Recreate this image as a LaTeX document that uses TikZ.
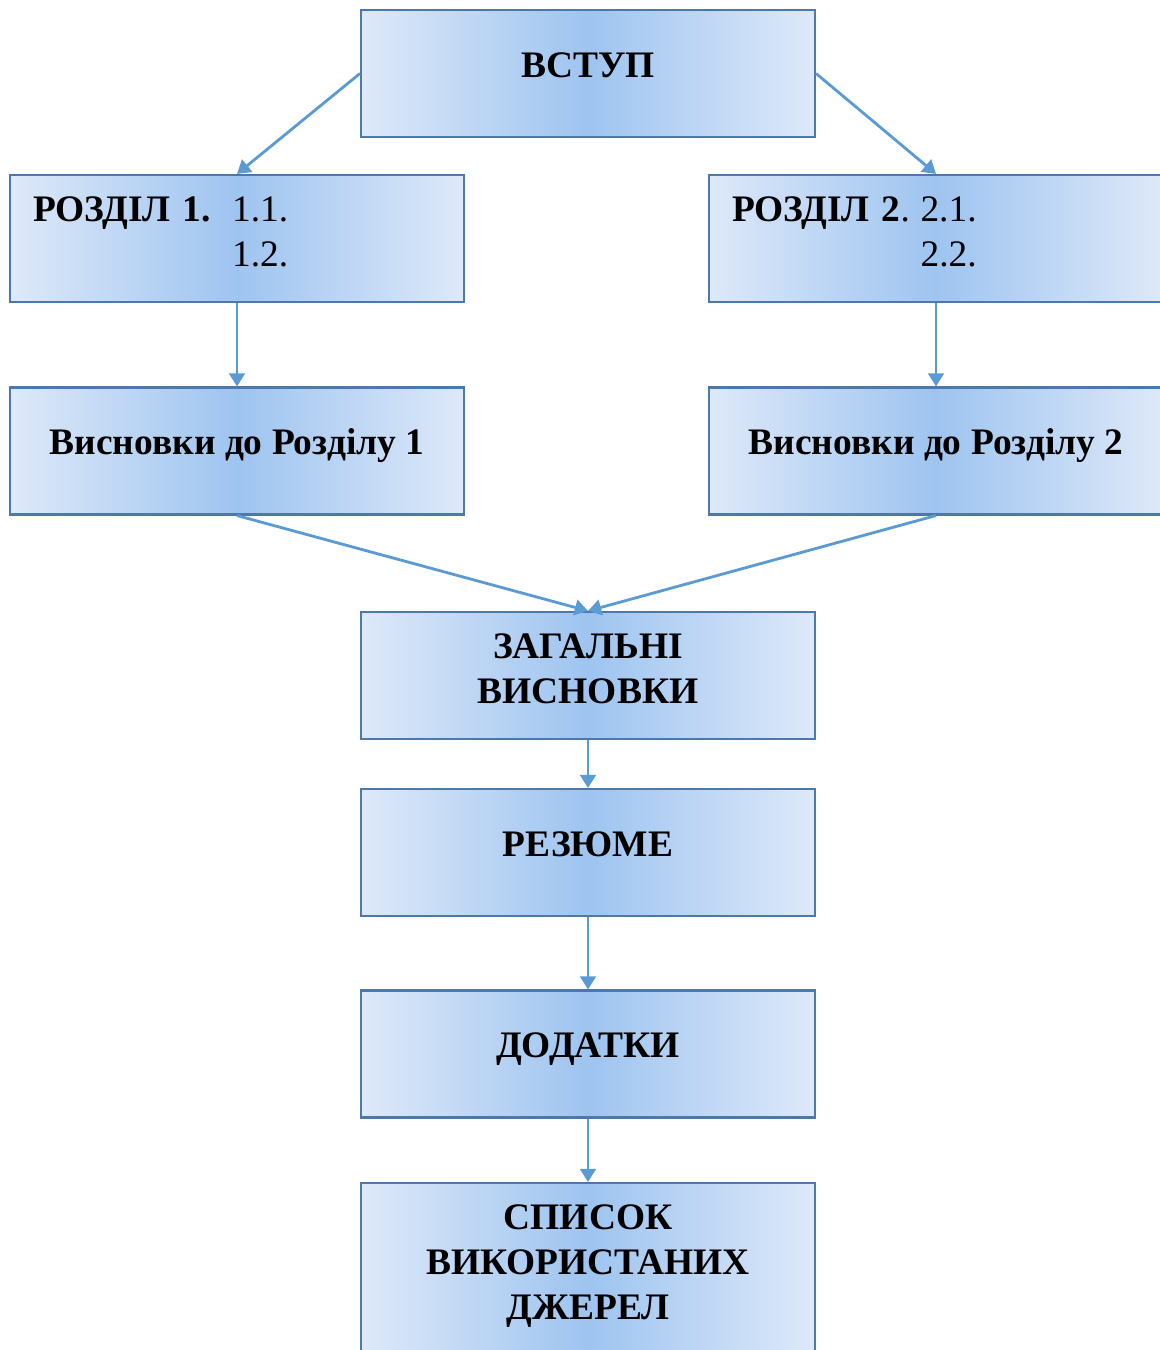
\documentclass[tikz,border=0pt]{standalone}
\usepackage{fontspec}
\setmainfont{Liberation Serif}
\usetikzlibrary{arrows.meta}

\definecolor{boxline}{RGB}{76,120,170}
\definecolor{arrowblue}{RGB}{91,155,213}
\definecolor{glowin}{RGB}{158,196,240}
\definecolor{glowout}{RGB}{222,233,249}

% text block inside a box, lifted a little by extra depth
\newcommand{\boxtext}[2][6pt]{\begin{tabular}{@{}c@{}}#2\\[#1]\end{tabular}}

\tikzset{
  part/.style={draw=boxline, line width=1.2pt, left color=glowout, right color=glowout,
    middle color=glowin, minimum width=9.08cm, minimum height=2.54cm, inner sep=0pt,
    font=\fontsize{21.3}{25.5}\selectfont\bfseries},
  chapter/.style={part, text width=8.16cm, align=left, inner xsep=0.46cm},
  link/.style={draw=arrowblue, line width=1.6pt, -{Triangle[length=7.5pt,width=9pt]}}
}

\begin{document}
\begin{tikzpicture}
\useasboundingbox (0,0) rectangle (23.18,-27);

\node[part] (intro) at (11.76,-1.47) {\boxtext{ВСТУП}};
\node[chapter] (r1) at (4.74,-4.77)
  {\begin{tabular}{@{}l@{\hspace{12pt}}l@{}}РОЗДІЛ 1. & \mdseries 1.1.\\ & \mdseries 1.2.\\[4pt]\end{tabular}};
\node[chapter] (r2) at (18.72,-4.77)
  {\begin{tabular}{@{}l@{\hspace{6pt}}l@{}}РОЗДІЛ 2\mdseries. & \mdseries 2.1.\\ & \mdseries 2.2.\\[4pt]\end{tabular}};
\node[part] (v1) at (4.74,-9.02) {\boxtext{Висновки до Розділу 1}};
\node[part] (v2) at (18.72,-9.02) {\boxtext{Висновки до Розділу 2}};
\node[part] (zag) at (11.76,-13.51) {\boxtext[4pt]{ЗАГАЛЬНІ\\ВИСНОВКИ}};
\node[part] (rez) at (11.76,-17.05) {\boxtext{РЕЗЮМЕ}};
\node[part] (dod) at (11.76,-21.08) {\boxtext{ДОДАТКИ}};
\node[part, minimum height=3.44cm] (spys) at (11.76,-25.38)
  {\boxtext[4pt]{СПИСОК\\ВИКОРИСТАНИХ\\ДЖЕРЕЛ}};

\draw[link] (intro.west) -- (r1.north);
\draw[link] (intro.east) -- (r2.north);
\draw[link] (r1.south) -- (v1.north);
\draw[link] (r2.south) -- (v2.north);
\draw[link] (v1.south) -- (zag.north);
\draw[link] (v2.south) -- (zag.north);
\draw[link] (zag.south) -- (rez.north);
\draw[link] (rez.south) -- (dod.north);
\draw[link] (dod.south) -- (spys.north);

\end{tikzpicture}
\end{document}
